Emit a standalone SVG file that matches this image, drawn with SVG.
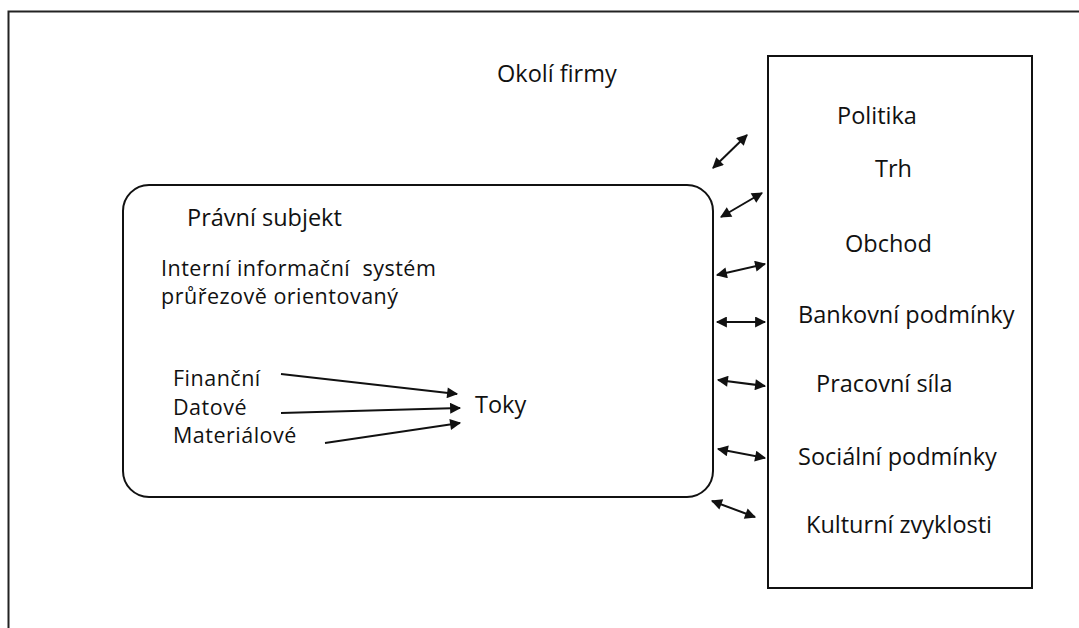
<svg xmlns="http://www.w3.org/2000/svg" width="1079" height="628" viewBox="0 0 1079 628">
  <style>
    .frame { fill: none; stroke: #222; stroke-width: 2; }
    .box { fill: #fff; stroke: #111; stroke-width: 2; }
    .lbl { font-family: "Open Sans", "Noto Sans", sans-serif; font-size: 23.5px; fill: #111; }
    .tight { font-size: 21.5px; letter-spacing: 0.5px; }
    .link { stroke: #111; stroke-width: 2; fill: none; }
  </style>
  <defs>
    <marker id="head" viewBox="0 0 10 10" refX="9" refY="5" markerWidth="6.5" markerHeight="5.5" orient="auto-start-reverse" markerUnits="strokeWidth">
      <path d="M0,0 L10,5 L0,10 z" fill="#111"/>
    </marker>
  </defs>
  <rect width="1079" height="628" fill="#fff"/>

  <!-- outer frame: top and left edges only -->
  <path class="frame" d="M8.5,628 V11.5 H1079"/>

  <text class="lbl" x="497" y="82">Okolí firmy</text>

  <g id="subject">
    <rect class="box" x="123" y="185" width="590" height="312" rx="26" ry="26"/>
    <text class="lbl" x="187" y="226">Právní subjekt</text>
    <text class="lbl tight" x="161" y="276" xml:space="preserve">Interní informační  systém</text>
    <text class="lbl tight" x="161" y="304">průřezově orientovaný</text>
    <text class="lbl tight" x="173" y="386">Finanční</text>
    <text class="lbl tight" x="173" y="415">Datové</text>
    <text class="lbl tight" x="173" y="443">Materiálové</text>
    <text class="lbl" x="475" y="413">Toky</text>
  </g>

  <g id="environment">
    <rect class="box" x="768" y="56" width="264" height="532"/>
    <text class="lbl" x="837" y="124">Politika</text>
    <text class="lbl" x="875" y="177">Trh</text>
    <text class="lbl" x="845" y="252">Obchod</text>
    <text class="lbl" x="798" y="323">Bankovní podmínky</text>
    <text class="lbl" x="816" y="392">Pracovní síla</text>
    <text class="lbl" x="798" y="465">Sociální podmínky</text>
    <text class="lbl" x="806" y="533">Kulturní zvyklosti</text>
  </g>

  <g id="connectors">
    <line class="link" x1="281" y1="374" x2="457" y2="394" marker-end="url(#head)"/>
    <line class="link" x1="281" y1="413" x2="460" y2="408" marker-end="url(#head)"/>
    <line class="link" x1="325" y1="443" x2="460" y2="423" marker-end="url(#head)"/>

    <line class="link" x1="713" y1="168" x2="747" y2="135" marker-start="url(#head)" marker-end="url(#head)"/>
    <line class="link" x1="721" y1="217" x2="762" y2="193" marker-start="url(#head)" marker-end="url(#head)"/>
    <line class="link" x1="717" y1="275" x2="765" y2="264" marker-start="url(#head)" marker-end="url(#head)"/>
    <line class="link" x1="717" y1="322" x2="765" y2="322" marker-start="url(#head)" marker-end="url(#head)"/>
    <line class="link" x1="718" y1="380" x2="765" y2="386" marker-start="url(#head)" marker-end="url(#head)"/>
    <line class="link" x1="718" y1="449" x2="765" y2="458" marker-start="url(#head)" marker-end="url(#head)"/>
    <line class="link" x1="712" y1="501" x2="755" y2="517" marker-start="url(#head)" marker-end="url(#head)"/>
  </g>
</svg>
